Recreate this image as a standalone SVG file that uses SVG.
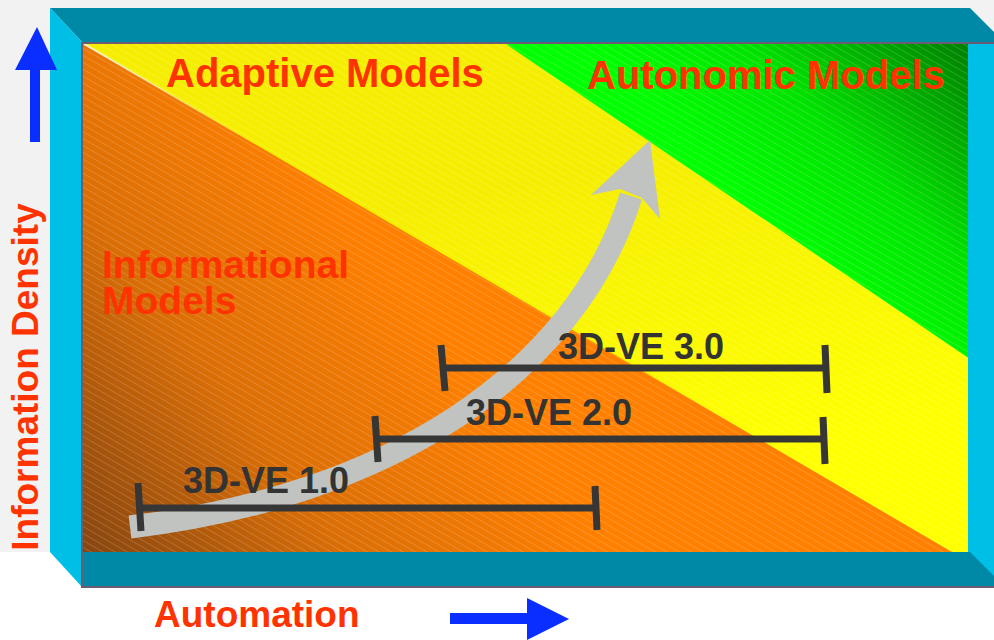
<svg xmlns="http://www.w3.org/2000/svg" width="994" height="640" viewBox="0 0 994 640">
  <defs>
    <linearGradient id="gOrange" gradientUnits="userSpaceOnUse" x1="82" y1="552" x2="420" y2="300">
      <stop offset="0" stop-color="#864510"/>
      <stop offset="0.5" stop-color="#DA6E06"/>
      <stop offset="1" stop-color="#FF8000"/>
    </linearGradient>
    <linearGradient id="gYellow" gradientUnits="userSpaceOnUse" x1="660" y1="470" x2="600" y2="170">
      <stop offset="0" stop-color="#FFFF00"/>
      <stop offset="1" stop-color="#F6EE00"/>
    </linearGradient>
    <linearGradient id="gGreen" gradientUnits="userSpaceOnUse" x1="780" y1="240" x2="975" y2="44">
      <stop offset="0" stop-color="#00FF00"/>
      <stop offset="0.4" stop-color="#00E400"/>
      <stop offset="1" stop-color="#007C00"/>
    </linearGradient>
    <linearGradient id="gEdge" gradientUnits="userSpaceOnUse" x1="84" y1="44" x2="260" y2="147">
      <stop offset="0" stop-color="#FFFFFF" stop-opacity="0.9"/>
      <stop offset="1" stop-color="#FFFFFF" stop-opacity="0"/>
    </linearGradient>
    <pattern id="stripes" width="6" height="6" patternUnits="userSpaceOnUse" patternTransform="rotate(30)">
      <line x1="0" y1="0.5" x2="6" y2="0.5" stroke="#FFFFFF" stroke-width="0.8" stroke-opacity="0.2"/>
    </pattern>
    <style>
      .wallTop { fill: #0089A7; }
      .wallSide { fill: #00BFE6; }
      .frame { stroke: #6B5B73; stroke-width: 2; fill: none; }
      .bar { stroke: #363636; stroke-width: 7; stroke-linecap: butt; fill: none; }
      .redlbl { font-family: "Liberation Sans", Arial, sans-serif; font-weight: bold; fill: #FF3300; }
      .barlbl { font-family: "Liberation Sans", Arial, sans-serif; font-weight: bold; font-size: 36px; fill: #333333; }
      .blue { fill: #0A2EFF; }
    </style>
  </defs>

  <!-- background -->
  <rect x="0" y="0" width="994" height="640" fill="#FFFFFF"/>
  <rect x="0" y="0" width="994" height="552" fill="#F2F2F2"/>

  <!-- back face -->
  <g id="backface">
    <rect x="82" y="42" width="888" height="512" fill="url(#gYellow)"/>
    <polygon points="82,44 84,44 952,552 82,552" fill="url(#gOrange)"/>
    <polygon points="503,42 970,42 970,359" fill="url(#gGreen)"/>
    <line x1="84" y1="44" x2="260" y2="147" stroke="url(#gEdge)" stroke-width="1.5"/>
    <rect x="82" y="42" width="888" height="512" fill="url(#stripes)"/>
  </g>

  <!-- box walls -->
  <g id="walls">
    <rect class="wallSide" x="968" y="42" width="30" height="546"/>
    <polygon class="wallTop" points="50,8 970,8 1004,42 82,42"/>
    <polygon class="wallSide" points="50,8 82,42 82,587 50,552"/>
    <polygon class="wallTop" points="82,552 970,552 1005,587 82,587"/>
    <polyline class="frame" points="994,43 82,43 82,587 994,587"/>
  </g>

  <!-- region labels -->
  <g id="adaptive">
    <text class="redlbl" x="166" y="87" font-size="40">Adaptive Models</text>
  </g>
  <g id="autonomic">
    <text class="redlbl" x="587" y="89" font-size="40">Autonomic Models</text>
  </g>
  <g id="informational">
    <text class="redlbl" x="102" y="278" font-size="39"><tspan x="102" y="278">Informational</tspan><tspan x="102" y="314">Models</tspan></text>
  </g>

  <!-- connectors: growth arrow -->
  <g id="connectors">
    <path d="M130,527 C385,497 575,376 631,196" fill="none" stroke="#C1C3C1" stroke-width="23"/>
    <polygon points="650,140 660,219 642,198 620,189 591,195" fill="#C1C3C1"/>
  </g>

  <g id="ve3">
    <line class="bar" x1="443" y1="368" x2="826" y2="368"/>
    <line class="bar" x1="441" y1="345" x2="445" y2="391"/>
    <line class="bar" x1="825" y1="345" x2="827" y2="393"/>
    <text class="barlbl" x="558" y="359">3D-VE 3.0</text>
  </g>
  <g id="ve2">
    <line class="bar" x1="377" y1="439" x2="824" y2="439"/>
    <line class="bar" x1="375" y1="416" x2="378" y2="462"/>
    <line class="bar" x1="823" y1="417" x2="825" y2="464"/>
    <text class="barlbl" x="466" y="425">3D-VE 2.0</text>
  </g>
  <g id="ve1">
    <line class="bar" x1="140" y1="508" x2="597" y2="508"/>
    <line class="bar" x1="138" y1="483" x2="141" y2="531"/>
    <line class="bar" x1="595" y1="486" x2="597" y2="530"/>
    <text class="barlbl" x="183" y="493">3D-VE 1.0</text>
  </g>

  <!-- axes -->
  <g id="yaxis">
    <polygon class="blue" points="37,27 57,70 40,70 40,142 30,142 30,70 15,70"/>
    <text class="redlbl" font-size="37" text-anchor="middle" transform="translate(38,377) rotate(-90)">Information Density</text>
  </g>
  <g id="xaxis">
    <polygon class="blue" points="450,613 527,613 527,598 569,619 527,640 527,624 450,624"/>
    <text class="redlbl" x="154" y="627" font-size="37">Automation</text>
  </g>
</svg>
